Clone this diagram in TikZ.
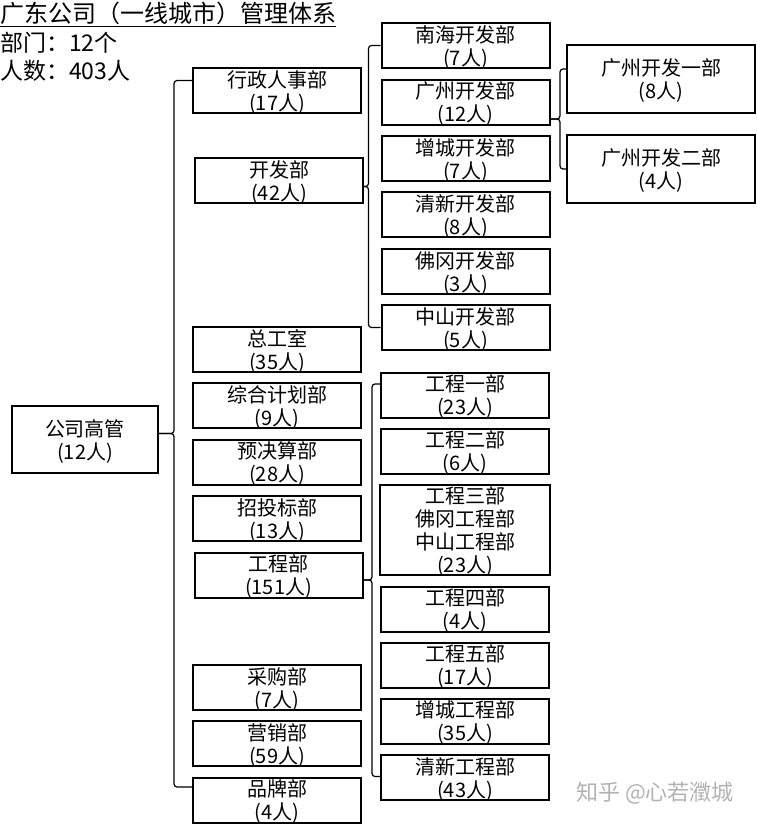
\documentclass[tikz,border=0pt]{standalone}
\usepackage{fontspec}
\setmainfont{Noto Sans CJK SC}
\begin{document}
\begin{tikzpicture}[x = 1pt, y = -1pt,
  dept/.style = {draw, line width = 2pt, minimum width = 168pt, minimum height = 45pt,
                 inner sep = 0pt, align = center, text depth = 0pt, font = \fontsize{20}{23}\selectfont},
  brace/.style = {line width = 1.2pt, rounded corners = 3pt}]

\useasboundingbox (0,0) rectangle (756,825);

\node [anchor = north west, inner sep = 0pt, font = \fontsize{24}{28}\selectfont] (title) at (0,2) {\underline{广东公司（一线城市）管理体系}};
\node [anchor = north west, inner sep = 0pt, font = \fontsize{23}{28}\selectfont, align = left] (count) at (0,32) {部门：12个\\人数：403人};

\node [dept, minimum width = 146pt, minimum height = 67pt] (head) at (85,439.5) {公司高管\\(12人)};

\node [dept] (adm)    at (277,90.5)  {行政人事部\\(17人)};
\node [dept] (dev)    at (279,180.5) {开发部\\(42人)};
\node [dept] (chief)  at (277,349.5) {总工室\\(35人)};
\node [dept] (plan)   at (277,405.5) {综合计划部\\(9人)};
\node [dept] (budget) at (277,462)   {预决算部\\(28人)};
\node [dept] (bid)    at (277,518.5) {招投标部\\(13人)};
\node [dept] (eng)    at (278.5,575) {工程部\\(151人)};
\node [dept] (purch)  at (277,687.5) {采购部\\(7人)};
\node [dept] (mkt)    at (277,743.5) {营销部\\(59人)};
\node [dept] (brand)  at (277,800)   {品牌部\\(4人)};

\node [dept] (nh) at (465.5,45.5)  {南海开发部\\(7人)};
\node [dept] (gz) at (465.5,102)   {广州开发部\\(12人)};
\node [dept] (zc) at (465.5,158.5) {增城开发部\\(7人)};
\node [dept] (qx) at (465.5,214.5) {清新开发部\\(8人)};
\node [dept] (fg) at (465.5,271.5) {佛冈开发部\\(3人)};
\node [dept] (zs) at (465.5,327.5) {中山开发部\\(5人)};

\node [dept, minimum width = 188pt, minimum height = 68pt] (gz1) at (661,79)  {广州开发一部\\(8人)};
\node [dept, minimum width = 188pt, minimum height = 68pt] (gz2) at (661,169) {广州开发二部\\(4人)};

\node [dept] (e1) at (465,395)   {工程一部\\(23人)};
\node [dept] (e2) at (465,451)   {工程二部\\(6人)};
\node [dept, minimum width = 170pt, minimum height = 90pt] (e3) at (465,530) {工程三部\\佛冈工程部\\中山工程部\\(23人)};
\node [dept] (e4) at (465,609)   {工程四部\\(4人)};
\node [dept] (e5) at (465,665)   {工程五部\\(17人)};
\node [dept] (e6) at (465,721)   {增城工程部\\(35人)};
\node [dept] (e7) at (465,777.5) {清新工程部\\(43人)};

\draw [brace] ([yshift = 10pt]adm.west) -- ++(-18,0) |- ([yshift = 6pt]head.east);
\draw [brace] ([yshift = 13pt]brand.west) -- ++(-18,0) |- ([yshift = 6pt]head.east);

\draw [brace] (nh.west) -- ++(-12,0) |- ([yshift = -6pt]dev.east);
\draw [brace] (zs.west) -- ++(-12,0) |- ([yshift = -6pt]dev.east);

\draw [brace] ([yshift = 10pt]gz1.west) -- ++(-6,0) |- ([yshift = -17pt]gz.east);
\draw [brace] (gz2.west) -- ++(-6,0) |- ([yshift = -17pt]gz.east);

\draw [brace] ([yshift = 11pt]e1.west) -- ++(-8,0) |- ([yshift = -5pt]eng.east);
\draw [brace] ([yshift = 1pt]e7.west) -- ++(-8,0) |- ([yshift = -5pt]eng.east);

\node [text = black!30, font = \fontsize{22}{26}\selectfont] (mark) at (655,793) {知乎 @心若瀓城};

\end{tikzpicture}
\end{document}
